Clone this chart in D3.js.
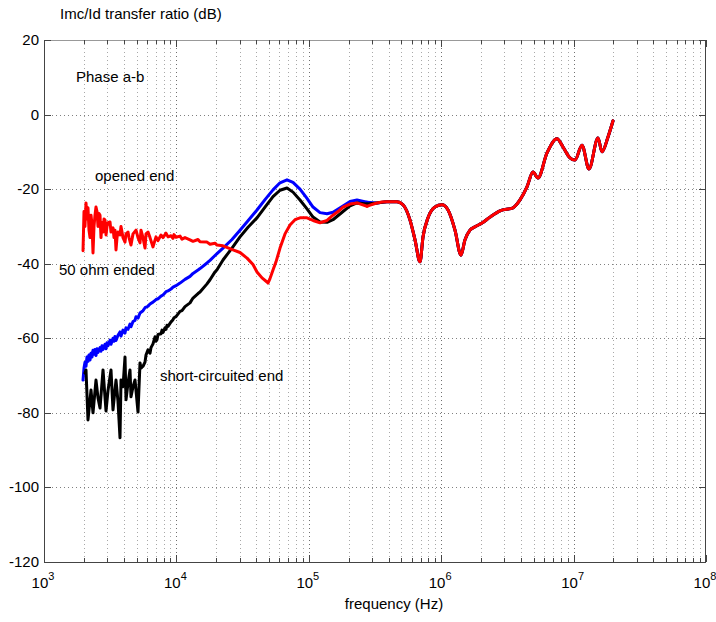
<!DOCTYPE html>
<html>
<head>
<meta charset="utf-8">
<script src="https://cdn.jsdelivr.net/npm/d3@7"></script>
<style>
  body { margin: 0; background: #fff; }
  svg text { font-family: "Liberation Sans", Arial, sans-serif; fill: #000; }
</style>
</head>
<body>
<svg id="chart" width="716" height="622"></svg>
<script>
// values: [frequency Hz, ratio dB]
var openedEnd = [
  [1971,-36.5],[2005,-26],[2040,-30],[2076,-23.7],[2112,-28],[2149,-25],[2187,-31],[2226,-33],[2265,-27],[2305,-29.5],
  [2345,-37.1],[2386,-30],[2428,-27],[2470,-24.8],[2514,-26],[2558,-30],[2603,-26.5],[2649,-27],[2695,-33],[2742,-29],
  [2791,-31.5],[2840,-28],[2889,-28.3],[2940,-32.3],[2992,-30],[3044,-29],[3152,-28.8],[3207,-31.5],[3320,-30.4],[3379,-33],
  [3438,-31],[3498,-36.3],[3560,-33],[3622,-31.5],[3750,-32.3],[3816,-30],[3951,-33],[4091,-34.2],[4163,-32],[4310,-31.5],
  [4386,-33],[4541,-35],[4702,-32],[4954,-31],[5129,-33],[5310,-34.4],[5403,-31],[5595,-33],[5793,-35.8],[5894,-32],
  [6104,-31.5],[6318,-33],[6657,-35.5],[7014,-32.8],[7262,-33.8],[7650,-32.3],[7922,-33],[8348,-31.8],[8642,-32.8],[9104,-32.5],
  [9425,-33.2],[9592,-32.2],[9931,-32.9],[10650,-32.6],[11020,-33.4],[11610,-33],[12670,-33.6],[13350,-34],[14560,-33.5],[15080,-34.1],
  [17030,-34.2],[17940,-34.8],[19570,-34.5],[20260,-35],[22490,-35.2],[26770,-36.3],[30230,-37],[34150,-38.5],[37890,-40.2],[40620,-42.2],
  [44310,-43.8],[48330,-44.9],[49180,-45.2],[50920,-44],[53650,-41.7],[56540,-39.5],[60610,-35.8],[66110,-32],[72110,-29.6],[78670,-28.2],
  [85800,-27.7],[96920,-27.7],[107600,-28.4],[121500,-29],[137300,-28.4],[152300,-27],[166200,-26],[181300,-24.8],[204800,-24],[231200,-23.7],
  [275200,-24.6]
];

var fiftyOhm = [
  [1971,-71.2],[2005,-68],[2040,-66.4],[2076,-67.5],[2112,-65],[2149,-66.2],[2187,-64.5],[2226,-65.8],[2265,-64],[2305,-65],
  [2345,-63.2],[2386,-64.3],[2428,-63],[2470,-64.6],[2514,-62.8],[2558,-63.8],[2649,-62.5],[2695,-63.5],[2742,-62],[2791,-63],
  [2889,-61.6],[2940,-62.8],[2992,-61.2],[3044,-62],[3152,-60.5],[3207,-61.6],[3320,-60],[3379,-60.8],[3438,-59.5],[3498,-60.6],
  [3622,-59.2],[3750,-58.3],[3816,-59.4],[3951,-57.8],[4091,-58.6],[4163,-57.2],[4310,-57.6],[4462,-56.2],[4541,-56.9],[4702,-55.5],
  [4868,-55.2],[4954,-54.2],[5129,-54.6],[5310,-53.2],[5595,-52.6],[5793,-51.8],[6104,-51.4],[6318,-50.8],[6657,-50.3],[7014,-49.6],
  [7262,-49.4],[7650,-48.7],[7922,-48.4],[8348,-47.5],[8642,-47.3],[9104,-46.8],[9425,-46.3],[9931,-45.9],[10650,-45.2],[11610,-44.2],
  [12670,-43.4],[13350,-42.6],[14560,-41.7],[15080,-41.3],[17030,-39.8],[17940,-39.1],[19570,-37.8],[20260,-37.3],[22490,-35.8],[26300,-33.5],
  [30230,-31],[34740,-28.5],[40620,-25.6],[46700,-22.8],[53650,-20.2],[60610,-18.3],[68440,-17.5],[75980,-18.2],[85800,-20],[96920,-22.5],
  [107600,-24.8],[121500,-26.3],[137300,-26.6],[152300,-26.2],[181300,-24.5],[204800,-23.3],[231200,-22.9],[275200,-23.5]
];

var shortCircuit = [
  [2040,-69.3],[2076,-68.5],[2149,-81.9],[2265,-73.9],[2345,-80],[2470,-71.2],[2558,-76],[2649,-78.7],[2791,-68.5],[2940,-79.5],
  [3044,-74],[3207,-68.5],[3320,-79.2],[3498,-71.2],[3622,-77],[3750,-86.7],[3816,-71.2],[3951,-73],[4091,-65],[4163,-76.5],
  [4310,-72],[4462,-68.5],[4541,-75.7],[4702,-73],[4868,-71.2],[4954,-74],[5129,-79.8],[5310,-66.6],[5403,-68],[5595,-67.5],
  [5793,-66.4],[5894,-64.5],[6104,-63.1],[6318,-64],[6430,-62.5],[6657,-61.5],[6893,-59.6],[7014,-60.8],[7138,-60.4],[7262,-59],
  [7650,-58.8],[7785,-57.8],[7922,-58.4],[8201,-57.2],[8348,-57.6],[8492,-56.5],[8642,-56.8],[9104,-55.6],[9425,-55],[9592,-54.5],
  [9931,-54.2],[10650,-52.8],[11020,-52.6],[11610,-51.5],[12670,-50.5],[13350,-49.2],[14560,-48],[15080,-47.6],[17030,-45.4],[17940,-44.3],
  [19570,-42.2],[20260,-41.6],[22490,-39],[26300,-35.8],[30230,-32.8],[34740,-30.2],[40620,-27.7],[46700,-24.8],[53650,-22],[60610,-20.3],
  [68440,-19.7],[75980,-20.8],[85800,-22.9],[96920,-25.3],[107600,-27.5],[121500,-28.8],[137300,-28.9],[152300,-28.2],[181300,-26],[204800,-24.5],
  [231200,-23.7],[275200,-24]
];

// part above ~300 kHz where the three responses coincide
var commonTail = [
  [327400,-23.7],[389600,-23.4],[463800,-23.4],[514600,-24.2],[581500,-28.3],[634100,-33.6],[691700,-39.5],[728900,-32.8],[795100,-27.7],[898100,-24.8],
  [1014000,-24.2],[1126000,-25.6],[1271000,-31],[1411000,-37.7],[1512000,-33.6],[1650000,-31],[1800000,-30.1],[2033000,-29.1],[2337000,-27.5],[2781000,-25.8],
  [3486000,-25],[3937000,-22.9],[4446000,-19.4],[4936000,-15.4],[5384000,-17],[6298000,-10.3],[7491000,-6.5],[8317000,-8.7],[9394000,-11.6],[10250000,-12.2],
  [11570000,-8.2],[13070000,-14.6],[15290000,-6.3],[16390000,-10],[18190000,-6],[19840000,-1.7]
];

var yTicks = [20, 0, -20, -40, -60, -80, -100, -120];
var decades = [1e3, 1e4, 1e5, 1e6, 1e7, 1e8];
var decadeExp = ["3", "4", "5", "6", "7", "8"];

var notes = [
  {text: "Phase a-b", x: 76, y: 82},
  {text: "opened end", x: 95, y: 181},
  {text: "50 ohm ended", x: 59, y: 275},
  {text: "short-circuited end", x: 160, y: 381}
];

var margin = {left: 44, right: 10, top: 40, bottom: 60};
var W = 716, H = 622;
var svg = d3.select("#chart");

var x = d3.scaleLog().domain([1e3, 1e8]).range([margin.left, W - margin.right]);
var y = d3.scaleLinear().domain([-120, 20]).range([H - margin.bottom, margin.top]);

// minor log positions
var minor = [];
decades.slice(0, -1).forEach(function(d){ for (var k = 2; k <= 9; k++) minor.push(d * k); });

var grid = svg.append("g");
grid.selectAll(".vminor").data(minor).join("line")
  .attr("x1", d => Math.round(x(d)) + 0.5).attr("x2", d => Math.round(x(d)) + 0.5)
  .attr("y1", y(20)).attr("y2", y(-120))
  .attr("stroke", "#a8a8a8").attr("stroke-width", 1).attr("stroke-dasharray", "1,3");
grid.selectAll(".vmajor").data(decades.slice(1, -1)).join("line")
  .attr("x1", d => Math.round(x(d)) + 0.5).attr("x2", d => Math.round(x(d)) + 0.5)
  .attr("y1", y(20)).attr("y2", y(-120))
  .attr("stroke", "#707070").attr("stroke-width", 1).attr("stroke-dasharray", "1,3");
grid.selectAll(".hgrid").data(yTicks.slice(1, -1)).join("line")
  .attr("x1", x(1e3)).attr("x2", x(1e8))
  .attr("y1", d => Math.round(y(d)) + 0.5).attr("y2", d => Math.round(y(d)) + 0.5)
  .attr("stroke", "#808080").attr("stroke-width", 1).attr("stroke-dasharray", "1,3");

// frame
var x0 = x(1e3), x1 = x(1e8), y0 = y(-120), y1 = y(20);
svg.append("line").attr("x1", x0).attr("x2", x1).attr("y1", y1 + 0.5).attr("y2", y1 + 0.5).attr("stroke", "#999");
svg.append("line").attr("x1", x0).attr("x2", x1).attr("y1", y0 + 0.5).attr("y2", y0 + 0.5).attr("stroke", "#444");
svg.append("line").attr("x1", x0 + 0.5).attr("x2", x0 + 0.5).attr("y1", y1).attr("y2", y0).attr("stroke", "#444");
svg.append("line").attr("x1", x1 - 0.5).attr("x2", x1 - 0.5).attr("y1", y1).attr("y2", y0).attr("stroke", "#444");

// tick marks
var tk = svg.append("g").attr("stroke", "#444");
yTicks.forEach(function(v){
  var py = Math.round(y(v)) + 0.5;
  tk.append("line").attr("x1", x0).attr("x2", x0 + 7).attr("y1", py).attr("y2", py);
  tk.append("line").attr("x1", x1 - 7).attr("x2", x1).attr("y1", py).attr("y2", py);
});
decades.concat(minor).forEach(function(v){
  var px = Math.round(x(v)) + 0.5;
  var len = decades.indexOf(v) >= 0 ? 7 : 4;
  tk.append("line").attr("x1", px).attr("x2", px).attr("y1", y0).attr("y2", y0 - len);
  tk.append("line").attr("x1", px).attr("x2", px).attr("y1", y1).attr("y2", y1 + len);
});

// tick labels
svg.append("g").selectAll("text").data(yTicks).join("text")
  .attr("x", x0 - 5).attr("y", d => y(d) + 5)
  .attr("text-anchor", "end").style("font-size", "15px")
  .text(d => d);

var xl = svg.append("g").selectAll("text").data(decades).join("text")
  .attr("x", d => x(d) - 1).attr("y", y0 + 26)
  .attr("text-anchor", "middle").style("font-size", "15px");
xl.append("tspan").text("10");
xl.append("tspan").attr("dy", -8).style("font-size", "11px").text((d, i) => decadeExp[i]);

svg.append("text").attr("x", 394).attr("y", 609).attr("text-anchor", "middle")
  .style("font-size", "15px").text("frequency (Hz)");
svg.append("text").attr("x", 60).attr("y", 19)
  .style("font-size", "15px").text("Imc/Id transfer ratio (dB)");

// curves: measured low-frequency part drawn point to point, common tail smoothed
var rough = d3.line().x(d => x(d[0])).y(d => y(d[1]));
var smooth = d3.line().x(d => x(d[0])).y(d => y(d[1])).curve(d3.curveMonotoneX);
var series = [
  {data: fiftyOhm, color: "#0000ff"},
  {data: shortCircuit, color: "#000000"},
  {data: openedEnd, color: "#ff0000"}
];
var curves = svg.append("g").selectAll("g").data(series).join("g")
  .attr("fill", "none")
  .attr("stroke", d => d.color)
  .attr("stroke-width", 3)
  .attr("stroke-linejoin", "round")
  .attr("stroke-linecap", "round");
curves.append("path").attr("d", d => rough(d.data));
curves.append("path").attr("d", d => smooth([d.data[d.data.length - 1]].concat(commonTail)));

svg.append("g").selectAll("text").data(notes).join("text")
  .attr("x", d => d.x).attr("y", d => d.y)
  .style("font-size", "15px").text(d => d.text);
</script>
</body>
</html>
